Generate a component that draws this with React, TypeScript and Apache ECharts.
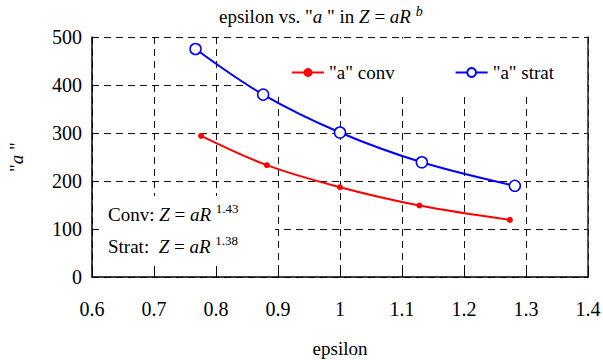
import React, { useEffect, useRef } from "react";
import * as echarts from "echarts";

const xTicks = [0.6, 0.7, 0.8, 0.9, 1.0, 1.1, 1.2, 1.3, 1.4];
const yTicks = [0, 100, 200, 300, 400, 500];
const convX = [0.776, 0.882, 1.0, 1.128, 1.274];
const convY = [294, 233, 187, 149, 119];
const stratX = [0.767, 0.876, 1.0, 1.132, 1.282];
const stratY = [475, 380, 301, 239, 190];
const seriesNames = ['"a" conv', '"a" strat'];
const exponents = ["1.43", "1.38"];

const FONT = "Liberation Serif";

export default function App() {
  const ref = useRef<HTMLDivElement>(null);
  useEffect(() => {
    if (!ref.current) return;
    const chart = echarts.init(ref.current, null, { renderer: "svg" });
    const dashed = { show: true, lineStyle: { color: "#111", type: [7, 5], width: 1 } };
    const rich = {
      n: { fontFamily: FONT, fontSize: 19, fontWeight: "normal", color: "#000" },
      i: { fontFamily: FONT, fontSize: 19, fontWeight: "normal", fontStyle: "italic", color: "#000" },
      s: { fontFamily: FONT, fontSize: 13, fontWeight: "normal", color: "#000", verticalAlign: "top", lineHeight: 24 },
      si: { fontFamily: FONT, fontSize: 14, fontWeight: "normal", fontStyle: "italic", color: "#000", verticalAlign: "top", lineHeight: 24 },
      l: { fontFamily: FONT, fontSize: 19, fontWeight: "normal", color: "#000" },
      li: { fontFamily: FONT, fontSize: 19, fontWeight: "normal", fontStyle: "italic", color: "#000" },
    };
    const titleText = (text: string, left: number, top: number) => ({
      text,
      left,
      top,
      padding: 0,
      textStyle: { fontFamily: FONT, fontWeight: "normal", fontSize: 19, color: "#000", rich },
    });
    chart.setOption({
      animation: false,
      backgroundColor: "#fff",
      textStyle: { fontFamily: FONT },
      title: [
        titleText('{n|epsilon vs. "}{i|a}{n| " in }{i|Z}{n| = }{i|aR}{n| }{si|b}', 219, 4),
        titleText(`{n|Conv: }{i|Z}{n| = }{i|aR}{n| }{s|${exponents[0]}}`, 108, 202),
        titleText(`{n|Strat:  }{i|Z}{n| = }{i|aR}{n| }{s|${exponents[1]}}`, 108, 234),
      ],
      legend: {
        data: seriesNames,
        left: 286,
        top: 58,
        itemWidth: 32,
        itemHeight: 11,
        itemGap: 60,
        z: 4,
        formatter: (name: string) => `{l|${name}}`,
        textStyle: { fontFamily: FONT, fontSize: 19, color: "#000", rich },
      },
      grid: { left: 92, right: 15, top: 37, bottom: 83, outerBoundsMode: "none", containLabel: false },
      xAxis: {
        type: "value",
        min: 0.6,
        max: 1.4,
        interval: 0.1,
        name: "epsilon",
        nameLocation: "middle",
        nameGap: 62,
        nameTextStyle: { fontFamily: FONT, fontSize: 19, color: "#000" },
        axisLine: { show: true, onZero: false, lineStyle: { color: "#000", width: 1.5 } },
        axisTick: { show: true, inside: true, length: 10, lineStyle: { color: "#000" } },
        axisLabel: {
          fontFamily: FONT,
          fontSize: 20,
          color: "#000",
          margin: 22,
          formatter: (v: number) => String(Math.round(v * 10) / 10),
        },
        splitLine: dashed,
      },
      yAxis: [
        {
          type: "value",
          min: 0,
          max: 500,
          interval: 100,
          name: '{l|"}{li|a}{l| "}',
          nameLocation: "middle",
          nameGap: 66,
          nameRotate: 90,
          nameTextStyle: { fontFamily: FONT, fontSize: 19, rich },
          axisLine: { show: true, lineStyle: { color: "#000", width: 1.5 } },
          axisTick: { show: true, inside: true, length: 6, lineStyle: { color: "#000" } },
          axisLabel: { fontFamily: FONT, fontSize: 20, color: "#000", margin: 10 },
          splitLine: dashed,
        },
        {
          type: "value",
          min: 0,
          max: 500,
          interval: 100,
          position: "right",
          axisLine: { show: true, lineStyle: { color: "#222", width: 1.5 } },
          axisTick: { show: false },
          axisLabel: { show: false },
          splitLine: { show: false },
        },
      ],
      graphic: [
        {
          type: "rect",
          z: 1,
          shape: { x: 250, y: 38.5, width: 337, height: 55 },
          style: { fill: "#fff" },
        },
        {
          type: "rect",
          z: 1,
          shape: { x: 99, y: 196, width: 176, height: 70 },
          style: { fill: "#fff" },
        },
      ],
      series: [
        {
          name: seriesNames[0],
          type: "line",
          z: 3,
          smooth: 0.35,
          data: convX.map((x, i) => [x, convY[i]]),
          symbol: "circle",
          symbolSize: 6,
          itemStyle: { color: "#ff0000" },
          lineStyle: { color: "#ff0000", width: 2 },
        },
        {
          name: seriesNames[1],
          type: "line",
          z: 3,
          smooth: 0.35,
          data: stratX.map((x, i) => [x, stratY[i]]),
          symbol: "circle",
          symbolSize: 11,
          itemStyle: { color: "#fff", borderColor: "#0000ff", borderWidth: 1.5 },
          lineStyle: { color: "#0000ff", width: 2 },
        },
      ],
    });
    return () => chart.dispose();
  }, []);
  return <div ref={ref} style={{ width: 603, height: 360, position: "absolute", left: 0, top: 0 }} />;
}
